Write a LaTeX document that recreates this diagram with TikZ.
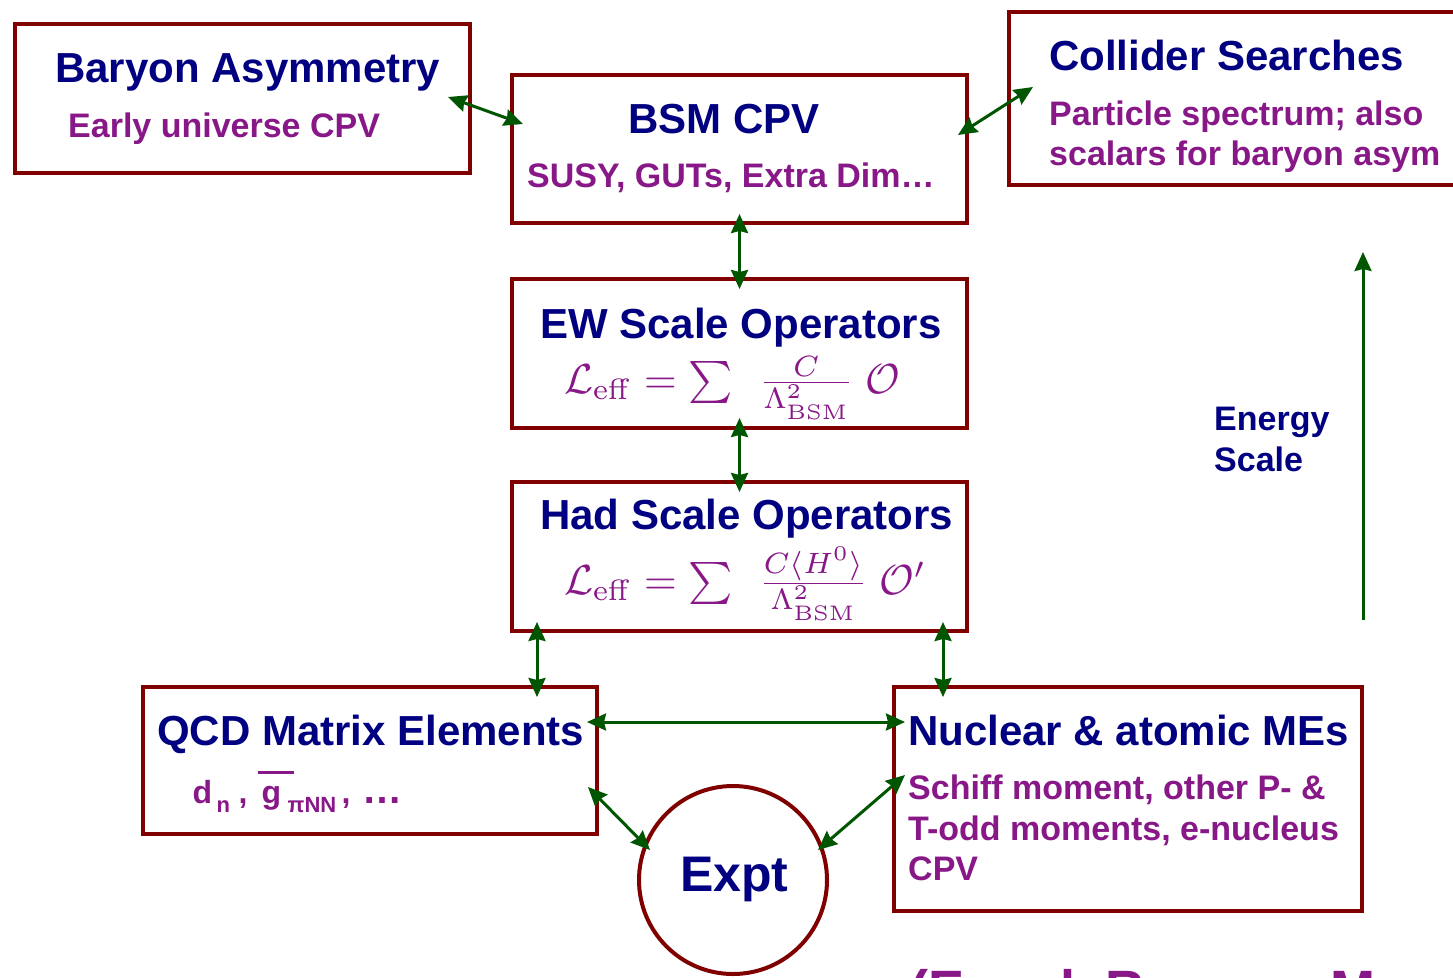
\RequirePackage{fix-cm}
\documentclass[tikz,border=0pt]{standalone}
\usepackage{graphicx}
\usepackage[no-math]{fontspec}
\setmainfont{Liberation Sans}
\usetikzlibrary{arrows.meta}

\definecolor{boxred}{HTML}{800000}
\definecolor{navy}{HTML}{000080}
\definecolor{plum}{HTML}{881888}
\definecolor{arrowgreen}{HTML}{005500}

% place #2 at horizontal offset #1 without taking up width
\newcommand\putat[2]{\rlap{\hspace{#1}#2}}
\newcommand\lowsub[1]{\raisebox{-9pt}{\fontsize{22}{22}\selectfont #1}}
% formulas are set at 10pt and enlarged as a whole
\newcommand\bigeqn[1]{\scalebox{4.2}{$#1$}}

\tikzset{
  box/.style={draw=boxred, line width=4pt, rectangle, inner sep=0pt, outer sep=0pt},
  ttl/.style={anchor=base west, inner sep=0pt, text=navy,
              font=\fontsize{42}{42}\selectfont\bfseries},
  sub/.style={anchor=base west, inner sep=0pt, text=plum,
              font=\fontsize{34}{34}\selectfont\bfseries},
  eqn/.style={anchor=base west, inner sep=0pt, text=plum,
              font=\fontsize{10}{12}\selectfont},
  link/.style={draw=arrowgreen, line width=3pt, {Stealth[length=19pt,width=17pt,inset=2pt]}-{Stealth[length=19pt,width=17pt,inset=2pt]}},
  uplink/.style={draw=arrowgreen, line width=3pt, -{Stealth[length=19pt,width=17pt,inset=2pt]}},
}

\begin{document}
\begin{tikzpicture}[x=1pt,y=-1pt]
\clip (0,0) rectangle (1453,977);
\fill[white] (0,0) rectangle (1453,977);

% boxes
\node[box, minimum width=455pt, minimum height=149pt] (bar) at (242.5,98.5) {};
\node[box, minimum width=455pt, minimum height=148pt] (bsm) at (739.5,149) {};
\node[box, minimum width=451pt, minimum height=173pt] (col) at (1234.5,98.5) {};
\node[box, minimum width=455pt, minimum height=149pt] (ew)  at (739.5,353.5) {};
\node[box, minimum width=455pt, minimum height=149pt] (had) at (739.5,556.5) {};
\node[box, minimum width=454pt, minimum height=147pt] (qcd) at (370,760.5) {};
\node[box, minimum width=468pt, minimum height=224pt] (nuc) at (1128,799) {};
\node[draw=boxred, line width=4pt, circle, minimum size=188pt, inner sep=0pt, outer sep=0pt] (expt) at (733,880) {};

% titles and descriptions
\node[ttl] (barT) at (55,82) {Baryon Asymmetry};
\node[sub] (barS) at (68,137) {Early universe CPV};

\node[ttl] (bsmT) at (628,133) {BSM CPV};
\node[sub] (bsmS) at (527,187) {SUSY, GUTs, Extra Dim…};

\node[ttl] (colT) at (1049,70) {Collider Searches};
\node[sub] (colS1) at (1049,125) {Particle spectrum; also};
\node[sub] (colS2) at (1049,165) {scalars for baryon asym};

\node[ttl] (ewT) at (540,338) {EW Scale Operators};
\node[eqn] (ewE) at (564,393)
  {\bigeqn{\mathcal{L}_{\mathrm{eff}} = \sum\;\, \frac{C}{\Lambda^2_{\mathrm{BSM}}}\; \mathcal{O}}};

\node[ttl] (hadT) at (540,529) {Had Scale Operators};
\node[eqn] (hadE) at (564,594)
  {\bigeqn{\mathcal{L}_{\mathrm{eff}} = \sum\;\, \frac{C\langle H^0\rangle}{\Lambda^2_{\mathrm{BSM}}}\; \mathcal{O}'}};

\node[ttl] (qcdT) at (157,745) {QCD Matrix Elements};
\node[sub, font=\fontsize{32}{32}\selectfont\bfseries] (qcdS) at (193,803)
  {\putat{-1pt}{d}\putat{23pt}{\lowsub{n}}\putat{45pt}{,}%
   \putat{64pt}{\rule[29pt]{36pt}{3.5pt}}\putat{68pt}{g}%
   \putat{94pt}{\lowsub{πNN}}\putat{148pt}{,}%
   \putat{169pt}{\fontsize{40}{40}\selectfont …}};

\node[ttl] (nucT) at (908,745) {Nuclear \& atomic MEs};
\node[sub] (nucS1) at (908,799) {Schiff moment, other P- \&};
\node[sub] (nucS2) at (908,840) {T-odd moments, e-nucleus};
\node[sub] (nucS3) at (908,880) {CPV};

\node[ttl, font=\fontsize{50}{50}\selectfont\bfseries] (exptT) at (680,891) {Expt};

\node[sub, text=navy] (enA) at (1214,430) {Energy};
\node[sub, text=navy] (enB) at (1214,471) {Scale};

\node[anchor=base west, inner sep=0pt, text=plum,
      font=\fontsize{54}{54}\selectfont\bfseries] (cite) at (910,1008.5) {(Engel, Ramsey-Musolf};

% connectors
\draw[link] ([shift={(-22,-1.5)}]bar.east) -- ([shift={(11,-25)}]bsm.west);
\draw[link] ([shift={(-9,-14)}]bsm.east) -- ([shift={(24,-11.5)}]col.west);
\draw[link] ([shift={(0,-9)}]bsm.south) -- ([shift={(0,10)}]ew.north);
\draw[link] ([shift={(0,-10)}]ew.south) -- ([shift={(0,10)}]had.north);
\draw[link] ([shift={(25,-9)}]had.south west) -- ([shift={(-60,10)}]qcd.north east);
\draw[link] ([shift={(-24,-9)}]had.south east) -- ([shift={(49,10)}]nuc.north west);
\draw[link] ([shift={(-10,-38.5)}]qcd.east) -- ([shift={(11,-77)}]nuc.west);
\draw[link] ([shift={(-9,26.5)}]qcd.east) -- ([shift={(-83,-30)}]expt.center);
\draw[link] ([shift={(11,-24)}]nuc.west) -- ([shift={(85,-30)}]expt.center);

% energy scale axis
\coordinate (elow) at (1363,620);
\coordinate (ehigh) at (1363,252);
\draw[uplink] (elow) -- (ehigh);
\end{tikzpicture}
\end{document}
